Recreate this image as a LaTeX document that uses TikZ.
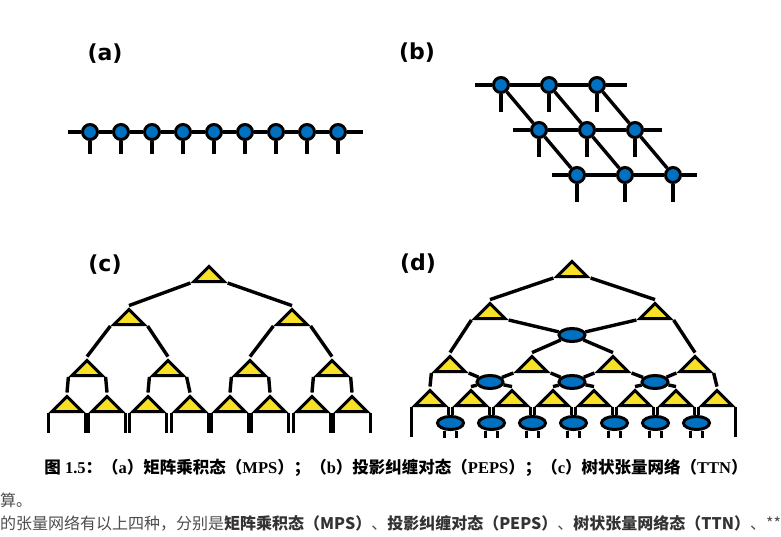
\documentclass[tikz,border=0pt]{standalone}
\usepackage{fontspec}
\setmainfont{Liberation Serif}
\newfontfamily\labelfont{DejaVu Sans}
\newfontfamily\cjk{Noto Sans CJK SC}
\usepackage{tikz}
\usetikzlibrary{positioning}
\usetikzlibrary{shapes.geometric}

\definecolor{tnblue}{HTML}{0070C0}
\definecolor{tnyellow}{HTML}{F8E027}
\definecolor{txtgray}{HTML}{4D4D4D}
\definecolor{txtdark}{HTML}{333333}

\tikzset{
  site/.style={circle,minimum size=15pt,inner sep=0pt,fill=tnblue,draw=black,line width=3pt},
  iso/.style={isosceles triangle,isosceles triangle stretches,shape border rotate=90,minimum width=30pt,minimum height=15pt,inner sep=0pt,anchor=lower side,fill=tnyellow,draw=black,line width=3pt},
  dis/.style={ellipse,minimum width=26pt,minimum height=13pt,inner sep=0pt,fill=tnblue,draw=black,line width=3pt},
  bond/.style={black,line width=3.4pt},
  lbl/.style={font=\labelfont\bfseries\fontsize{22}{22}\selectfont,inner sep=0pt,anchor=center}
}

\begin{document}
\begin{tikzpicture}[x=1pt,y=-1pt]
\useasboundingbox (0,0) rectangle (781,537);

\node[lbl] (la) at (105,54) {(a)};
\node[lbl] (lb) at (417,53) {(b)};
\node[lbl] (lc) at (105,265) {(c)};
\node[lbl] (ld) at (418,264) {(d)};

% (a) MPS
\coordinate (aL) at (68,132);
\coordinate (aR) at (363,132);
\node[site] (a1) at (90,132) {};
\node[site] (a2) at (121,132) {};
\node[site] (a3) at (152,132) {};
\node[site] (a4) at (183,132) {};
\node[site] (a5) at (214,132) {};
\node[site] (a6) at (245,132) {};
\node[site] (a7) at (276,132) {};
\node[site] (a8) at (307,132) {};
\node[site] (a9) at (338,132) {};
\draw[bond] (aL) -- (a1) -- (a2) -- (a3) -- (a4) -- (a5) -- (a6) -- (a7) -- (a8) -- (a9) -- (aR);
\foreach \i in {1,...,9} \draw[bond] (a\i.south) -- ++(0,13);

% (b) PEPS
\node[site] (b11) at (501,85) {};
\node[site] (b12) at (549,85) {};
\node[site] (b13) at (597,85) {};
\node[site] (b21) at (539,130) {};
\node[site] (b22) at (587,130) {};
\node[site] (b23) at (635,130) {};
\node[site] (b31) at (577,175) {};
\node[site] (b32) at (625,175) {};
\node[site] (b33) at (673,175) {};
\coordinate (b1L) at (475,85);
\coordinate (b1R) at (627,85);
\coordinate (b2L) at (513,130);
\coordinate (b2R) at (662,130);
\coordinate (b3L) at (552,175);
\coordinate (b3R) at (697,175);
\draw[bond] (b1L) -- (b11) -- (b12) -- (b13) -- (b1R);
\draw[bond] (b2L) -- (b21) -- (b22) -- (b23) -- (b2R);
\draw[bond] (b3L) -- (b31) -- (b32) -- (b33) -- (b3R);
\draw[bond] (b11) -- (b21) -- (b31);
\draw[bond] (b12) -- (b22) -- (b32);
\draw[bond] (b13) -- (b23) -- (b33);
\foreach \n in {b11,b12,b13,b21,b22,b23,b31,b32,b33} \draw[bond] (\n.south) -- ++(0,18);

% (c) TTN
\node[iso] (c0) at (209,283) {};
\node[iso] (c1) at (129,326) {};
\node[iso] (c2) at (292,326) {};
\node[iso] (c21) at (87,377) {};
\node[iso] (c22) at (168,377) {};
\node[iso] (c23) at (250,377) {};
\node[iso] (c24) at (332,377) {};
\node[iso] (c31) at (67,413) {};
\node[iso] (c32) at (107,413) {};
\node[iso] (c33) at (148,413) {};
\node[iso] (c34) at (190,413) {};
\node[iso] (c35) at (230,413) {};
\node[iso] (c36) at (270,413) {};
\node[iso] (c37) at (312,413) {};
\node[iso] (c38) at (352,413) {};
\draw[bond] (c0.left corner) -- (c1.apex);
\draw[bond] (c0.right corner) -- (c2.apex);
\draw[bond] (c1.left corner) -- (c21.apex);
\draw[bond] (c1.right corner) -- (c22.apex);
\draw[bond] (c2.left corner) -- (c23.apex);
\draw[bond] (c2.right corner) -- (c24.apex);
\foreach \p/\l/\r in {c21/c31/c32,c22/c33/c34,c23/c35/c36,c24/c37/c38} {
  \draw[bond] (\p.left corner) -- (\l.apex);
  \draw[bond] (\p.right corner) -- (\r.apex);
}
\foreach \i in {1,...,8} {
  \draw[bond] (c3\i.left corner) -- ++(0,20);
  \draw[bond] (c3\i.right corner) -- ++(0,20);
}

% (d) MERA
\node[iso] (d0) at (572,278) {};
\node[iso] (d1) at (490,320) {};
\node[iso] (d2) at (655,320) {};
\node[dis] (e0) at (572,335) {};
\node[iso] (d21) at (450,373) {};
\node[iso] (d22) at (532,373) {};
\node[iso] (d23) at (613,373) {};
\node[iso] (d24) at (695,373) {};
\node[dis] (e1) at (490,382) {};
\node[dis] (e2) at (572,382) {};
\node[dis] (e3) at (655,382) {};
\node[iso] (d31) at (430,407) {};
\node[iso] (d32) at (471,407) {};
\node[iso] (d33) at (512,407) {};
\node[iso] (d34) at (553,407) {};
\node[iso] (d35) at (594,407) {};
\node[iso] (d36) at (635,407) {};
\node[iso] (d37) at (676,407) {};
\node[iso] (d38) at (717,407) {};
\node[dis] (f1) at (450.5,423) {};
\node[dis] (f2) at (491.5,423) {};
\node[dis] (f3) at (532.5,423) {};
\node[dis] (f4) at (573.5,423) {};
\node[dis] (f5) at (614.5,423) {};
\node[dis] (f6) at (655.5,423) {};
\node[dis] (f7) at (696.5,423) {};
\draw[bond] (d0.left corner) -- (d1.apex);
\draw[bond] (d0.right corner) -- (d2.apex);
\draw[bond] (d1.right corner) -- (e0);
\draw[bond] (d2.left corner) -- (e0);
\draw[bond] (d1.left corner) -- (d21.apex);
\draw[bond] (d2.right corner) -- (d24.apex);
\draw[bond] (e0) -- (d22.apex);
\draw[bond] (e0) -- (d23.apex);
\draw[bond] (d21.right corner) -- (e1);
\draw[bond] (d22.left corner) -- (e1);
\draw[bond] (d22.right corner) -- (e2);
\draw[bond] (d23.left corner) -- (e2);
\draw[bond] (d23.right corner) -- (e3);
\draw[bond] (d24.left corner) -- (e3);
\draw[bond] (d21.left corner) -- (d31.apex);
\draw[bond] (e1) -- (d32.apex);
\draw[bond] (e1) -- (d33.apex);
\draw[bond] (e2) -- (d34.apex);
\draw[bond] (e2) -- (d35.apex);
\draw[bond] (e3) -- (d36.apex);
\draw[bond] (e3) -- (d37.apex);
\draw[bond] (d24.right corner) -- (d38.apex);
\foreach \i/\j in {1/2,2/3,3/4,4/5,5/6,6/7,7/8} {
  \draw[bond] (d3\i.right corner) -- (d3\i.right corner |- f\i.north);
  \draw[bond] (d3\j.left corner) -- (d3\j.left corner |- f\i.north);
  \draw[bond] ([xshift=-6pt]f\i.south) -- ++(0,7);
  \draw[bond] ([xshift=6pt]f\i.south) -- ++(0,7);
}
\draw[bond] (d31.left corner) -- ++(0,30);
\draw[bond] (d38.right corner) -- ++(0,30);

\node[font=\bfseries\fontsize{16.5}{16.5}\selectfont,anchor=center,inner sep=0pt] (cap) at (396,468) {{\cjk 图} 1.5{\cjk ：（}a{\cjk ）矩阵乘积态（}MPS{\cjk ）；（}b{\cjk ）投影纠缠对态（}PEPS{\cjk ）；（}c{\cjk ）树状张量网络（}TTN{\cjk ）}};
\node[font=\cjk\fontsize{16}{16}\selectfont,text=txtgray,anchor=west,inner sep=0pt] (t1) at (0,500) {算。};
\node[font=\cjk\fontsize{16}{16}\selectfont,text=txtgray,anchor=west,inner sep=0pt] (t2) at (0,523) {的张量网络有以上四种，分别是{\bfseries\color{txtdark}矩阵乘积态（MPS）}、{\bfseries\color{txtdark}投影纠缠对态（PEPS）}、{\bfseries\color{txtdark}树状张量网络态（TTN）}、**};

\end{tikzpicture}
\end{document}
